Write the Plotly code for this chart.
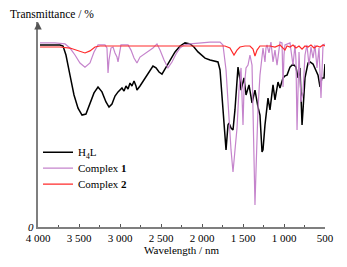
import plotly.graph_objects as go

# H4L
h4l_w = [3976, 3854, 3732, 3695, 3659, 3610, 3561, 3512, 3463, 3415, 3366, 3317, 3268, 3220, 3171, 3134, 3098, 3061, 3024, 3000,
         2976, 2951, 2927, 2902, 2878, 2854, 2829, 2805, 2793, 2756, 2695, 2634, 2598, 2561, 2524, 2488, 2451, 2390, 2329, 2268,
         2207, 2146, 2098, 2049, 2000, 1963, 1902, 1841, 1805, 1780, 1756, 1744, 1707, 1683, 1671, 1646, 1622, 1598, 1573, 1561,
         1537, 1524, 1500, 1488, 1463, 1427, 1390, 1354, 1317, 1293, 1268, 1256, 1232, 1220, 1195, 1171, 1134, 1110, 1073, 1049,
         1012, 988, 963, 927, 890, 854, 829, 805, 793, 780, 768, 744, 707, 683, 646, 622, 585, 561, 537, 512, 500]
h4l_t = [88.8, 88.8, 88.8, 88.3, 83.9, 74.1, 64.4, 58.0, 54.6, 55.1, 60.0, 65.4, 68.3, 65.9, 61.0, 58.5, 60.0, 63.9, 65.9, 66.8,
         67.8, 66.3, 68.8, 67.3, 70.2, 68.8, 71.2, 68.8, 66.8, 68.8, 72.7, 76.6, 78.5, 77.6, 75.6, 74.6, 77.1, 81.5, 85.4, 88.3,
         89.8, 89.3, 87.8, 85.4, 83.4, 82.4, 81.5, 81.0, 80.5, 76.6, 64.4, 54.6, 37.6, 49.8, 50.7, 48.3, 47.3, 57.1, 71.7, 78.0,
         71.7, 66.8, 70.7, 72.7, 64.4, 69.3, 60.5, 66.8, 58.5, 54.6, 36.6, 37.6, 49.8, 54.6, 62.9, 57.1, 69.3, 62.0, 70.7, 67.8,
         72.7, 73.7, 74.1, 78.0, 79.5, 78.0, 72.7, 77.6, 62.0, 49.8, 57.1, 72.7, 80.0, 80.5, 79.5, 77.6, 74.1, 68.3, 72.7, 72.7, 79.5]

# Complex 1
c1_w = [3976, 3793, 3671, 3610, 3549, 3488, 3427, 3366, 3317, 3268, 3183, 3159, 3146, 3134, 3110, 3085, 3061, 3037, 3024, 3012,
        2988, 2902, 2866, 2829, 2793, 2756, 2720, 2659, 2598, 2549, 2512, 2463, 2415, 2366, 2317, 2268, 2220, 2146, 2024, 1902,
        1780, 1744, 1707, 1671, 1646, 1622, 1598, 1573, 1549, 1537, 1524, 1500, 1488, 1463, 1439, 1415, 1390, 1378, 1354, 1341,
        1317, 1293, 1280, 1256, 1244, 1232, 1220, 1207, 1183, 1159, 1134, 1110, 1085, 1061, 1049, 1024, 1012, 1000, 988, 927,
        890, 866, 854, 841, 829, 817, 793, 768, 744, 720, 695, 671, 646, 622, 598, 573, 549, 537, 524, 500]
c1_t = [89.8, 89.8, 89.3, 87.3, 83.9, 80.0, 78.0, 80.0, 85.4, 88.8, 88.8, 87.3, 75.1, 81.5, 87.3, 87.8, 84.9, 82.9, 80.5, 83.9,
        88.8, 88.8, 86.3, 82.4, 80.0, 82.9, 83.9, 85.4, 87.3, 89.3, 86.3, 81.5, 77.6, 80.5, 84.4, 87.3, 88.8, 89.3, 89.8, 90.2,
        90.2, 88.8, 76.6, 52.2, 37.6, 26.8, 37.6, 48.3, 66.8, 74.1, 77.6, 49.8, 66.8, 77.6, 79.0, 83.9, 79.0, 57.1, 10.7, 27.8,
        58.0, 74.1, 79.0, 87.3, 83.9, 80.5, 87.3, 88.8, 84.9, 90.2, 80.5, 86.3, 79.0, 88.8, 90.2, 89.8, 68.3, 83.9, 88.8, 89.8,
        79.0, 88.8, 81.5, 47.3, 76.6, 85.4, 61.0, 65.9, 83.9, 88.8, 79.0, 87.8, 82.4, 88.8, 77.6, 87.3, 62.9, 81.5, 88.8, 89.3]

# Complex 2
c2_w = [3976, 3732, 3610, 3512, 3427, 3366, 3305, 3244, 2634, 2024, 1720, 1659, 1610, 1573, 1537, 1476, 1415, 1378, 1354, 1329,
        1293, 1171, 1110, 1049, 1012, 988, 963, 927, 890, 854, 817, 780, 744, 707, 671, 634, 598, 561, 524, 500]
c2_t = [87.8, 87.8, 87.3, 85.9, 84.9, 85.9, 87.8, 88.3, 88.3, 88.3, 88.3, 87.3, 83.9, 86.3, 87.8, 88.3, 88.3, 86.8, 83.4, 86.3,
        88.3, 88.3, 87.8, 88.8, 87.3, 86.3, 88.3, 87.8, 88.8, 87.3, 88.3, 86.8, 88.3, 87.8, 88.8, 87.3, 88.3, 87.8, 88.8, 88.3]

tick_vals = [4000, 3500, 3000, 2500, 2000, 1500, 1000, 500]
tick_text = ["4 000", "3 500", "3 000", "2 500", "2 000", "1 500", "1 000", "500"]

FONT = "Times New Roman, Liberation Serif, serif"

fig = go.Figure()
fig.add_trace(go.Scatter(x=h4l_w, y=h4l_t, mode="lines", name="H<sub>4</sub>L", legend="legend",
                         line=dict(color="black", width=1.5)))
fig.add_trace(go.Scatter(x=c1_w, y=c1_t, mode="lines", name="Complex <b>1</b>", legend="legend2",
                         line=dict(color="#c584cc", width=1.2)))
fig.add_trace(go.Scatter(x=c2_w, y=c2_t, mode="lines", name="Complex <b>2</b>", legend="legend3",
                         line=dict(color="#ff2a2a", width=1.2)))

leg = dict(xanchor="left", yanchor="middle", bgcolor="rgba(0,0,0,0)",
           font=dict(family=FONT, size=11, color="black"), borderwidth=0)

fig.update_layout(
    width=339, height=259,
    margin=dict(l=30, r=22, t=14, b=40),
    paper_bgcolor="white", plot_bgcolor="white",
    font=dict(family=FONT, size=11, color="black"),
    showlegend=True,
    legend=dict(leg, x=0.0, y=0.365),
    legend2=dict(leg, x=0.0, y=0.287),
    legend3=dict(leg, x=0.0, y=0.209),
    xaxis=dict(range=[4000, 500], tickvals=tick_vals, ticktext=tick_text,
               showgrid=False, zeroline=False, showline=True, linecolor="#7f7f7f", linewidth=2,
               ticks="inside", ticklen=3, tickwidth=1, tickcolor="#555555",
               minor=dict(dtick=250, ticks="inside", ticklen=2, tickcolor="#555555"),
               tickfont=dict(family=FONT, size=11),
               title=dict(text="Wavelength / nm", font=dict(family=FONT, size=11), standoff=2)),
    yaxis=dict(range=[0, 100], showgrid=False, zeroline=False, showline=True,
               linecolor="#7f7f7f", linewidth=2, showticklabels=False, ticks=""),
)

fig.add_annotation(x=0, y=1, xref="paper", yref="paper", ax=0, ay=12,
                   showarrow=True, arrowhead=2, arrowsize=1, arrowwidth=1.5, arrowcolor="#555555", text=" ")
fig.add_annotation(x=0, y=1, xref="paper", yref="paper", xshift=-29, yshift=8,
                   xanchor="left", yanchor="middle", showarrow=False, borderpad=0,
                   text="Transmittance / %", font=dict(family=FONT, size=11.5))
fig.add_annotation(x=0, y=0, xref="paper", yref="paper", xshift=-3, yshift=0,
                   xanchor="right", yanchor="middle", showarrow=False, borderpad=0,
                   text="<i>0</i>", font=dict(family=FONT, size=11))

fig.write_html("out.html")
